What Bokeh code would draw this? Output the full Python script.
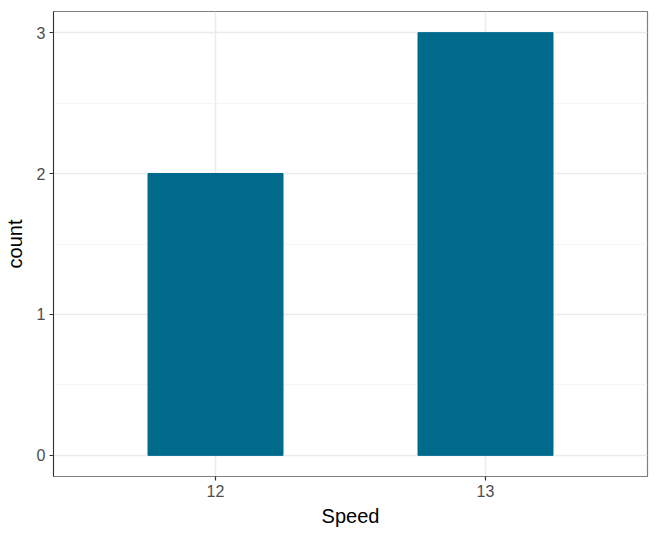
from bokeh.plotting import figure
from bokeh.models import Range1d, FixedTicker
from bokeh.embed import file_html
from bokeh.resources import INLINE

speeds = [12, 13]
counts = [2, 3]
x_ticks = [12, 13]
y_ticks = [0, 1, 2, 3]
y_minor = [0.5, 1.5, 2.5]

FONT = "Liberation Sans"

p = figure(width=654, height=529, output_backend="svg", toolbar_location=None,
           x_range=Range1d(11.4, 13.6), y_range=Range1d(-0.15, 3.15),
           min_border_left=51, min_border_right=7, min_border_top=11, min_border_bottom=52)

p.vbar(x=speeds, top=counts, width=0.5, bottom=0, color="#006A8C")

p.background_fill_color = "white"
p.border_fill_color = "white"
p.outline_line_color = "#7F7F7F"
p.outline_line_width = 1.2

p.xaxis.ticker = FixedTicker(ticks=x_ticks)
p.yaxis.ticker = FixedTicker(ticks=y_ticks, minor_ticks=y_minor)

for ax in (p.xaxis[0], p.yaxis[0]):
    ax.major_tick_line_color = "#333333"
    ax.major_tick_line_width = 1.2
    ax.major_tick_out = 4
    ax.major_tick_in = 0
    ax.minor_tick_line_color = None
    ax.major_label_text_font = FONT
    ax.major_label_text_font_size = "16px"
    ax.major_label_text_color = "#4D4D4D"
    ax.axis_label_text_font = FONT
    ax.axis_label_text_font_size = "20px"
    ax.axis_label_text_font_style = "normal"
    ax.axis_label_text_color = "black"
    ax.major_label_standoff = 4

p.xaxis.axis_line_color = "#7F7F7F"
p.yaxis.axis_line_color = "#333333"
p.xaxis.axis_label = "Speed"
p.yaxis.axis_label = "count"
p.xaxis.axis_label_standoff = 5
p.yaxis.axis_label_standoff = 8

p.xgrid.grid_line_color = "#EBEBEB"
p.xgrid.grid_line_width = 1.5
p.ygrid.grid_line_color = "#EBEBEB"
p.ygrid.grid_line_width = 1.5
p.ygrid.minor_grid_line_color = "#F2F2F2"
p.ygrid.minor_grid_line_width = 0.8
p.xgrid.level = "underlay"
p.ygrid.level = "underlay"

open("out.html", "w").write(file_html(p, INLINE))
